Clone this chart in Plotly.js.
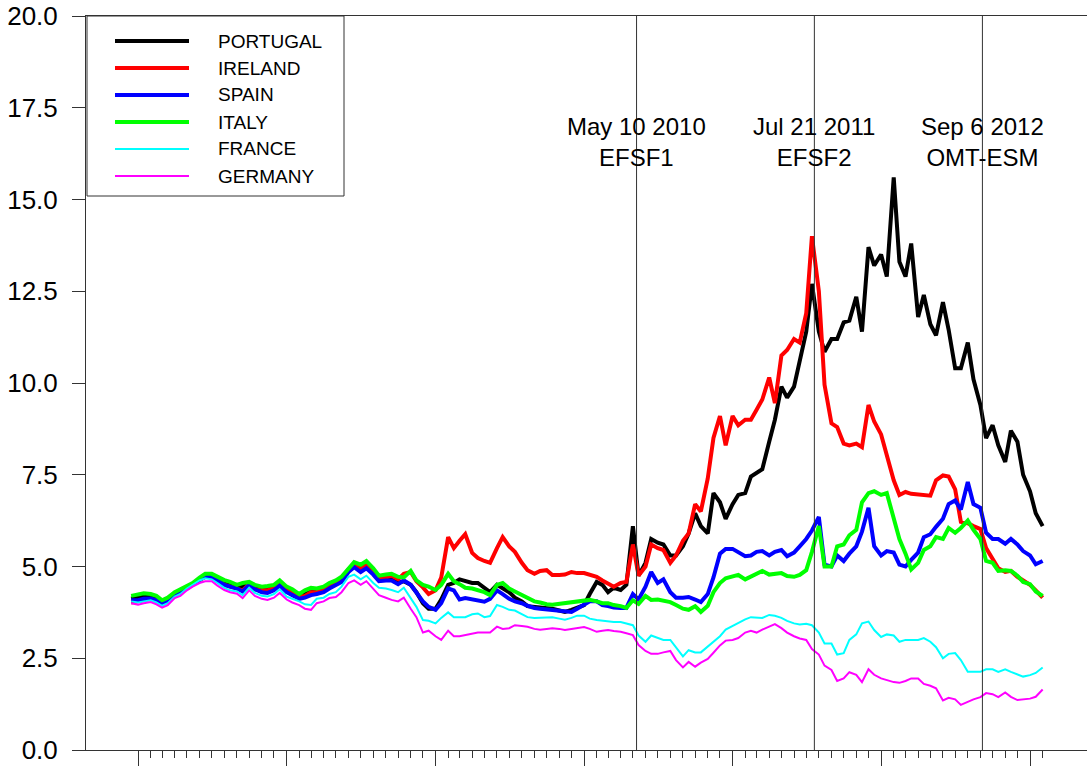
<!DOCTYPE html>
<html>
<head>
<meta charset="utf-8">
<script src="https://cdn.plot.ly/plotly-3.0.1.min.js"></script>
<style>
  html, body { margin: 0; padding: 0; background: #ffffff; }
  #chart { width: 1087px; height: 767px; }
</style>
</head>
<body>
<div id="chart"></div>
<script>
// ---- series names and styles ----
const countries = ['PORTUGAL', 'IRELAND', 'SPAIN', 'ITALY', 'FRANCE', 'GERMANY'];

// ---- 10-year yields, semi-monthly readings (Dec 15 2006 ... Feb 1 2013) ----
const portugal = [4.12,4.15,4.2,4.2,4.15,4.02,4.1,4.25,4.33,4.42,4.52,4.66,4.75,4.75,4.65,4.55,4.5,4.45,4.45,4.55,4.42,4.38,4.4,4.45,4.58,
  4.38,4.32,4.2,4.25,4.35,4.35,4.4,4.5,4.57,4.67,4.92,5.05,4.97,5.08,4.88,4.68,4.7,4.7,4.55,4.6,4.5,4.3,
  4.0,3.85,3.85,4.1,4.5,4.55,4.65,4.6,4.55,4.55,4.42,4.3,4.5,4.4,4.3,4.15,4.05,3.92,3.9,3.9,3.88,3.85,3.8,3.76,3.82,3.87,
  3.95,4.25,4.58,4.5,4.3,4.42,4.36,4.5,6.1,4.75,5.1,5.75,5.65,5.6,5.3,5.3,5.55,5.9,6.45,6.1,5.9,7.0,6.75,6.3,
  6.7,6.95,7.0,7.45,7.55,7.65,8.4,9.0,9.9,9.6,9.9,10.6,11.4,12.7,11.4,10.85,11.2,11.2,11.65,11.7,12.35,11.4,13.7,13.2,13.5,
  12.9,15.6,13.3,12.9,13.8,11.8,12.4,11.6,11.3,12.2,11.45,10.4,10.4,11.1,10.1,9.4,8.5,8.85,8.3,7.85,8.7,8.4,7.5,7.05,6.45,6.1];

const ireland = [4.02,4.05,4.1,4.12,4.06,3.97,4.05,4.2,4.3,4.4,4.5,4.65,4.72,4.72,4.6,4.5,4.45,4.4,4.35,4.52,4.38,4.35,4.35,4.42,4.55,
  4.35,4.3,4.18,4.2,4.3,4.3,4.38,4.48,4.55,4.65,4.9,5.02,4.95,5.05,4.85,4.68,4.7,4.75,4.65,4.8,4.85,4.6,
  4.43,4.25,4.35,4.7,5.8,5.5,5.7,5.88,5.37,5.23,5.15,5.1,5.5,5.8,5.55,5.4,5.1,4.9,4.8,4.88,4.9,4.77,4.77,4.78,4.85,4.82,
  4.82,4.78,4.72,4.62,4.55,4.45,4.55,4.58,5.6,4.75,5.0,5.6,5.5,5.45,5.1,5.3,5.7,5.9,6.7,6.5,7.4,8.5,9.1,8.3,
  9.1,8.85,9.0,9.0,9.27,9.55,10.15,9.45,10.75,10.9,11.2,11.1,11.9,14.0,12.5,9.95,8.9,8.8,8.35,8.3,8.35,8.25,9.4,8.95,8.6,
  8.0,7.35,6.95,7.03,6.98,6.97,6.95,6.93,7.35,7.48,7.45,7.1,6.22,6.18,6.1,6.02,5.5,5.2,4.95,4.85,4.88,4.72,4.62,4.5,4.35,4.15];

const spain = [4.08,4.08,4.12,4.13,4.08,3.98,4.05,4.22,4.3,4.42,4.5,4.65,4.73,4.72,4.62,4.5,4.45,4.4,4.32,4.5,4.38,4.3,4.28,4.35,4.48,
  4.3,4.22,4.12,4.15,4.22,4.25,4.3,4.4,4.48,4.58,4.85,4.98,4.85,4.95,4.78,4.6,4.62,4.62,4.52,4.62,4.5,4.3,
  4.05,3.9,3.82,4.0,4.4,4.35,4.1,4.14,4.1,4.08,4.04,4.12,4.35,4.25,4.12,4.05,4.0,3.93,3.87,3.85,3.83,3.81,3.8,3.78,3.76,3.85,
  3.95,4.05,4.05,3.95,3.92,3.88,3.87,3.87,4.25,4.1,4.45,4.85,4.55,4.65,4.3,4.15,4.15,4.17,4.1,4.03,4.25,4.7,5.35,5.48,
  5.48,5.4,5.28,5.3,5.4,5.42,5.3,5.4,5.45,5.28,5.38,5.55,5.75,5.98,6.35,5.05,5.0,5.3,5.15,5.35,5.55,5.95,6.6,5.55,5.3,
  5.42,5.38,5.05,5.0,5.18,5.38,5.8,5.88,6.08,6.3,6.7,6.8,6.55,7.3,6.7,6.6,5.92,5.75,5.75,5.62,5.75,5.6,5.42,5.3,5.06,5.15];

const italy = [4.2,4.25,4.27,4.25,4.2,4.08,4.15,4.3,4.38,4.45,4.55,4.7,4.8,4.8,4.72,4.63,4.58,4.5,4.55,4.58,4.5,4.45,4.47,4.5,4.62,
  4.45,4.38,4.25,4.35,4.42,4.4,4.45,4.55,4.62,4.72,4.95,5.12,5.05,5.15,4.95,4.75,4.78,4.8,4.72,4.7,4.88,4.62,
  4.5,4.45,4.36,4.5,4.8,4.6,4.52,4.42,4.4,4.36,4.3,4.22,4.5,4.55,4.4,4.32,4.22,4.12,4.05,4.02,3.97,3.96,3.98,4.0,4.02,4.03,
  4.06,4.09,4.05,4.0,4.0,3.95,3.92,3.87,4.08,3.98,4.2,4.09,4.1,4.08,4.03,3.95,3.85,3.82,3.92,3.76,3.93,4.3,4.55,4.68,
  4.72,4.77,4.65,4.72,4.82,4.88,4.78,4.8,4.82,4.74,4.72,4.77,4.9,5.4,6.1,5.0,5.0,5.55,5.6,5.85,6.0,6.75,7.0,7.05,6.95,
  7.0,6.3,5.75,5.35,4.92,5.1,5.45,5.55,5.8,5.75,6.05,5.92,6.05,6.25,6.0,5.75,5.15,5.1,4.88,4.9,4.88,4.75,4.58,4.52,4.32,4.2];

const france = [4.05,4.02,4.05,4.08,4.02,3.93,4.0,4.18,4.25,4.4,4.5,4.62,4.68,4.65,4.55,4.42,4.35,4.32,4.22,4.42,4.28,4.2,4.18,4.25,4.38,
  4.18,4.12,4.05,3.97,3.95,4.12,4.15,4.25,4.3,4.45,4.72,4.78,4.65,4.75,4.55,4.42,4.4,4.36,4.3,4.42,4.15,3.9,
  3.54,3.52,3.45,3.6,3.75,3.62,3.62,3.62,3.7,3.72,3.62,3.65,3.95,3.9,3.82,3.8,3.7,3.62,3.6,3.6,3.6,3.62,3.58,3.55,3.6,3.66,
  3.66,3.58,3.54,3.52,3.49,3.49,3.49,3.45,3.4,3.12,2.95,3.12,3.05,3.0,3.0,2.8,2.55,2.72,2.66,2.66,2.82,2.95,3.1,3.28,
  3.38,3.48,3.56,3.62,3.6,3.6,3.68,3.66,3.6,3.52,3.45,3.42,3.44,3.4,3.2,2.9,2.9,2.6,2.64,3.0,3.15,3.45,3.5,3.27,3.08,
  3.15,3.12,2.95,3.0,3.0,3.0,3.05,2.95,2.8,2.5,2.62,2.64,2.45,2.13,2.13,2.13,2.2,2.2,2.13,2.2,2.13,2.05,2.0,2.04,2.1,2.25];

const germany = [4.0,3.96,4.0,4.03,3.97,3.88,3.95,4.14,4.2,4.35,4.45,4.55,4.6,4.6,4.48,4.36,4.3,4.26,4.14,4.35,4.2,4.12,4.09,4.15,4.28,
  4.1,4.02,3.95,3.85,3.82,4.0,4.05,4.14,4.17,4.3,4.55,4.62,4.5,4.6,4.4,4.22,4.15,4.09,4.05,4.15,3.85,3.62,
  3.2,3.25,3.1,3.0,3.25,3.1,3.1,3.13,3.15,3.2,3.2,3.2,3.36,3.3,3.32,3.4,3.38,3.36,3.3,3.28,3.3,3.32,3.3,3.27,3.3,3.33,
  3.35,3.3,3.22,3.25,3.27,3.24,3.22,3.18,3.13,2.86,2.7,2.62,2.62,2.66,2.7,2.45,2.25,2.4,2.27,2.38,2.48,2.65,2.85,2.98,
  3.0,3.05,3.2,3.25,3.2,3.28,3.37,3.43,3.32,3.2,3.1,3.04,3.0,2.75,2.6,2.3,2.18,1.88,1.95,2.12,2.05,1.85,2.2,2.05,1.95,
  1.9,1.85,1.83,1.88,1.95,1.95,1.8,1.75,1.68,1.35,1.42,1.38,1.23,1.32,1.38,1.44,1.55,1.52,1.44,1.57,1.45,1.36,1.38,1.4,1.45,1.65];

const seriesValues = [portugal, ireland, spain, italy, france, germany];
const seriesColors = ['#000000', '#ff0000', '#0000ff', '#00ff00', '#00ffff', '#ff00ff'];
const seriesWidths = [4, 4, 4, 4, 2, 2];

// ---- event markers ----
const eventDates = ['2010-05-10', '2011-07-21', '2012-09-06'];
const eventLabels = ['May 10 2010', 'Jul 21 2011', 'Sep 6 2012'];
const eventNames = ['EFSF1', 'EFSF2', 'OMT-ESM'];

// ---- y tick values ----
const yTicks = [0, 2.5, 5, 7.5, 10, 12.5, 15, 17.5, 20];

// ---- date grid: 15 Dec 2006, then 1st and 15th of each month, up to 1 Feb 2013 ----
function pad(n) { return String(n).padStart(2, '0'); }
const dates = ['2006-12-15'];
for (let y = 2007; y <= 2013; y++) {
  for (let m = 1; m <= 12; m++) {
    if (y === 2013 && m > 1) break;
    dates.push(y + '-' + pad(m) + '-01');
    dates.push(y + '-' + pad(m) + '-15');
  }
}
dates.push('2013-02-01');

const yearTicks = [];
for (let y = 2007; y <= 2013; y++) yearTicks.push(y + '-01-01');
const monthTicks = [];
for (let y = 2007; y <= 2013; y++) {
  for (let m = 1; m <= 12; m++) {
    if (y === 2013 && m > 2) break;
    monthTicks.push(y + '-' + pad(m) + '-01');
  }
}

const FONT = '"Liberation Sans", Arial, Helvetica, sans-serif';
const AX = '#333333';

const traces = countries.map((name, k) => ({
  type: 'scatter',
  mode: 'lines',
  name: name,
  x: dates,
  y: seriesValues[k],
  line: { color: seriesColors[k], width: seriesWidths[k] },
  showlegend: false,
  hoverinfo: 'x+y+name'
}));

const shapes = [];
const annotations = [];

// event vertical lines + labels
eventDates.forEach((d, k) => {
  shapes.push({ type: 'line', xref: 'x', yref: 'paper', x0: d, x1: d, y0: 0, y1: 1,
    line: { color: AX, width: 1 } });
  annotations.push({ xref: 'x', yref: 'paper', x: d, y: 0.8285, xanchor: 'center', yanchor: 'middle',
    text: eventLabels[k] + '<br>' + eventNames[k], showarrow: false, align: 'center',
    font: { family: FONT, size: 24, color: '#000000' } });
});

// legend box (drawn by hand to match the original layout)
const plotW = 1087 - 86, plotH = 750 - 16;
const px2x = px => (px - 86) / plotW;
const px2y = py => (750 - py) / plotH;
shapes.push({ type: 'rect', xref: 'paper', yref: 'paper', x0: px2x(87), x1: px2x(344), y0: px2y(196), y1: px2y(16),
  line: { color: AX, width: 1 }, fillcolor: '#ffffff', layer: 'above' });
countries.forEach((name, k) => {
  const yy = px2y(41 + 27 * k);
  shapes.push({ type: 'line', xref: 'paper', yref: 'paper', x0: px2x(115), x1: px2x(189), y0: yy, y1: yy,
    line: { color: seriesColors[k], width: seriesWidths[k] }, layer: 'above' });
  annotations.push({ xref: 'paper', yref: 'paper', x: px2x(216), y: yy, xanchor: 'left', yanchor: 'middle',
    text: name, showarrow: false, font: { family: FONT, size: 19, color: '#000000' } });
});

const layout = {
  width: 1087,
  height: 767,
  margin: { l: 86, r: 0, t: 16, b: 17, pad: 0 },
  paper_bgcolor: '#ffffff',
  plot_bgcolor: '#ffffff',
  showlegend: false,
  font: { family: FONT, color: '#000000' },
  xaxis: {
    type: 'date',
    range: ['2006-08-26', '2013-05-21'],
    showgrid: false,
    zeroline: false,
    showline: true,
    linecolor: AX,
    linewidth: 1,
    mirror: true,
    tickmode: 'array',
    tickvals: yearTicks,
    ticks: 'outside',
    ticklen: 15,
    tickwidth: 1,
    tickcolor: AX,
    showticklabels: false,
    minor: { tickmode: 'array', tickvals: monthTicks, ticks: 'outside', ticklen: 7, tickwidth: 1, tickcolor: AX, showgrid: false }
  },
  yaxis: {
    range: [0, 20],
    tickmode: 'array',
    tickvals: yTicks,
    tickformat: '.1f',
    showgrid: false,
    zeroline: false,
    showline: true,
    linecolor: AX,
    linewidth: 1,
    ticks: 'outside',
    ticklen: 13,
    tickwidth: 1,
    tickcolor: AX,
    ticklabelstandoff: 9,
    tickfont: { family: FONT, size: 26, color: '#000000' }
  },
  shapes: shapes,
  annotations: annotations
};

Plotly.newPlot('chart', traces, layout, { staticPlot: true, displayModeBar: false });
</script>
</body>
</html>
